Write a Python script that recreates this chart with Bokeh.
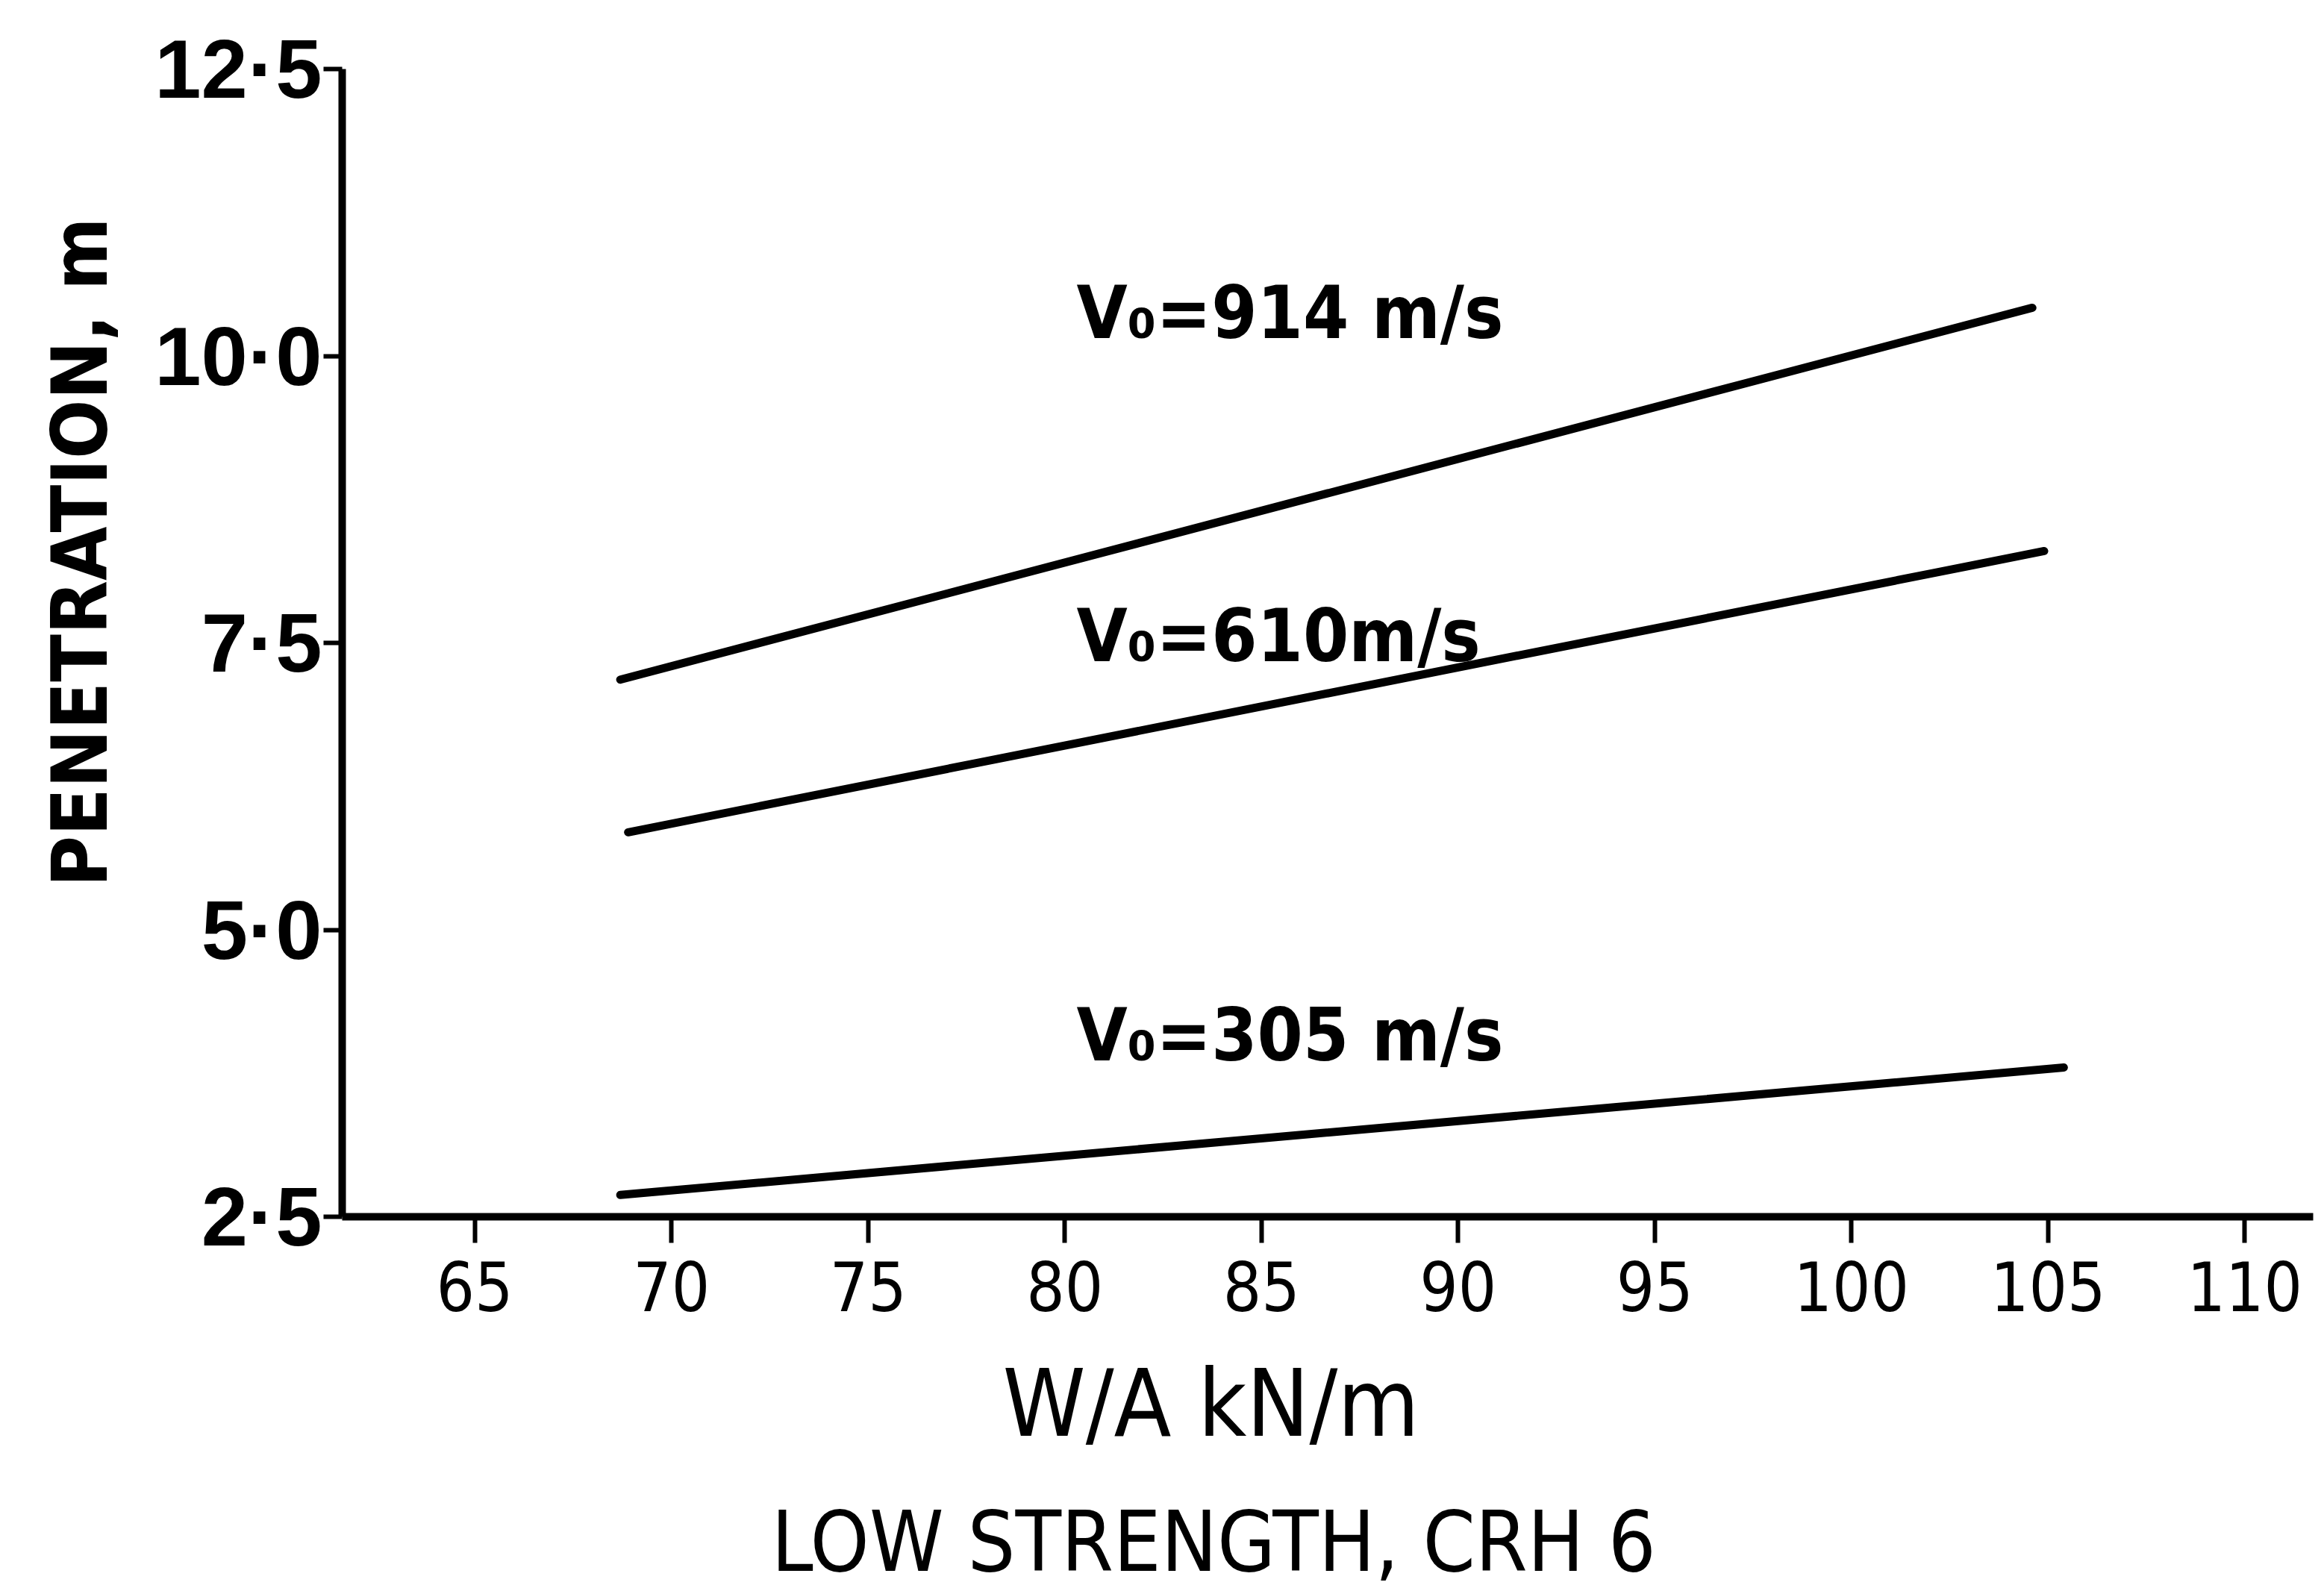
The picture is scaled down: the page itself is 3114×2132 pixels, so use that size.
import math
from bokeh.plotting import figure
from bokeh.models import FixedTicker, Range1d, ColumnDataSource, CustomJSTickFormatter, Title
from bokeh.core.properties import value
from bokeh.embed import file_html
from bokeh.resources import INLINE

# ---- data ----
x_ticks = [65, 70, 75, 80, 85, 90, 95, 100, 105, 110]
y_ticks = [2.5, 5, 7.5, 10, 12.5]
y_tick_labels = ["2·5", "5·0", "7·5", "10·0", "12·5"]

x_914 = [68.7, 104.6]
y_914 = [7.18, 10.42]
x_610 = [68.9, 104.9]
y_610 = [5.85, 8.30]
x_305 = [68.7, 105.4]
y_305 = [2.69, 3.80]

series_labels = ["V₀=914 m/s", "V₀=610m/s", "V₀=305 m/s"]
series_label_x = [80.3, 80.3, 80.3]
series_label_y = [10.38, 7.56, 4.08]

x_title = "W/A kN/m"
subtitle = "LOW STRENGTH, CRH 6"
y_title = "PENETRATION, m"

NARROW = "DejaVu Sans Condensed"

p = figure(width=3114, height=2132,
           x_range=Range1d(61.63, 111.74), y_range=Range1d(2.5, 12.5),
           output_backend="svg", toolbar_location=None,
           min_border_left=458, min_border_right=15,
           min_border_top=92, min_border_bottom=502)
p.outline_line_color = None
p.xgrid.visible = False
p.ygrid.visible = False
p.background_fill_color = "white"
p.border_fill_color = "white"

for ax in (p.xaxis, p.yaxis):
    ax.axis_line_width = 10
    ax.axis_line_color = "black"
    ax.major_tick_line_width = 6
    ax.major_tick_line_color = "black"
    ax.major_tick_in = 0
    ax.minor_tick_line_color = None
    ax.major_label_text_color = "black"

p.xaxis.ticker = FixedTicker(ticks=x_ticks, minor_ticks=[])
p.xaxis.major_tick_out = 35
p.xaxis.major_label_standoff = 24
p.xaxis.major_label_text_font = NARROW
p.xaxis.major_label_text_font_size = "90px"

p.yaxis.ticker = FixedTicker(ticks=y_ticks, minor_ticks=[])
p.yaxis.formatter = CustomJSTickFormatter(
    args=dict(tick_vals=y_ticks, tick_texts=y_tick_labels),
    code="""
    for (let i = 0; i < tick_vals.length; i++) {
        if (Math.abs(tick_vals[i] - tick) < 1e-9) { return tick_texts[i]; }
    }
    return String(tick);
    """)
p.yaxis.major_tick_out = 25
p.yaxis.major_label_standoff = 2
p.yaxis.major_label_text_font = "Liberation Sans"
p.yaxis.major_label_text_font_size = "112px"
p.yaxis.major_label_text_font_style = "bold"

for xs, ys in ((x_914, y_914), (x_610, y_610), (x_305, y_305)):
    p.line(xs, ys, line_width=11, line_color="black", line_cap="round")

src = ColumnDataSource(dict(x=series_label_x, y=series_label_y, t=series_labels))
p.text(x="x", y="y", text="t", source=src, text_font=value(NARROW),
       text_font_size="98px", text_font_style="bold", text_color="black",
       text_align="left", text_baseline="middle")

p.add_layout(Title(text=y_title, align="left", offset=442, standoff=73,
                   text_font=NARROW, text_font_size="104px",
                   text_font_style="bold", text_color="black"), "left")
p.add_layout(Title(text=x_title, align="left", offset=885, standoff=92,
                   text_font=NARROW, text_font_size="125px",
                   text_font_style="normal", text_color="black"), "below")
p.add_layout(Title(text=subtitle, align="left", offset=575, standoff=0,
                   text_font=NARROW, text_font_size="112px",
                   text_font_style="normal", text_color="black"), "below")

open("out.html", "w").write(file_html(p, INLINE))
